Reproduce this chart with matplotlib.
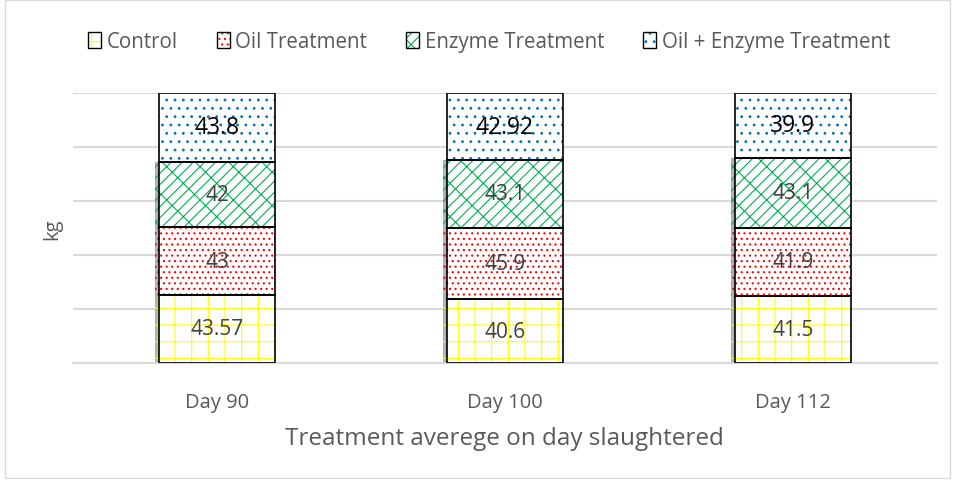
import numpy as np
import matplotlib.pyplot as plt
import matplotlib.patheffects as pe
from matplotlib.legend_handler import HandlerTuple

plt.rcParams['font.family'] = ['Open Sans', 'DejaVu Sans']
plt.rcParams['hatch.linewidth'] = 0.8

# data
days = ["Day 90", "Day 100", "Day 112"]
series = ["Control", "Oil Treatment", "Enzyme Treatment", "Oil + Enzyme Treatment"]
control = [43.57, 40.6, 41.5]
oil = [43, 45.9, 41.9]
enzyme = [42, 43.1, 43.1]
oil_enzyme = [43.8, 42.92, 39.9]

hatch_colors = ["#ffff00", "#ff0000", "#00b050", "#0070c0"]
hatches = ["+", "...", "x//", ".."]
label_colors = ["#404040", "#404040", "#404040", "#000000"]
label_sizes = [15, 15, 15, 16.5]

values = np.array([control, oil, enzyme, oil_enzyme])
shares = values / values.sum(axis=0)   # 100% stacked

fig = plt.figure(figsize=(9.55, 4.81), dpi=100)
ax = fig.add_axes([0.0764, 0.2432, 0.9046, 0.5614])
fig.patches.append(plt.Rectangle((0.005, 0.004), 0.99, 0.994, transform=fig.transFigure,
                                 fill=False, edgecolor="#d9d9d9", linewidth=1))

x = np.arange(len(days))
w = 0.403
bottom = np.zeros(len(days))
for i in range(len(series)):
    # hatch layer, then black outline
    bars = ax.bar(x, shares[i], w, bottom=bottom, color="white", edgecolor=hatch_colors[i],
                  hatch=hatches[i], linewidth=0, zorder=2)
    if i < 3:
        for b in bars:
            b.set_path_effects([pe.SimplePatchShadow(offset=(-3, 0), shadow_rgbFace="#7f7f7f",
                                                     alpha=0.6), pe.Normal()])
    ax.bar(x, shares[i], w, bottom=bottom, fill=False, edgecolor="black",
           linewidth=1.2, zorder=3)
    for j in range(len(days)):
        ax.text(x[j], bottom[j] + shares[i][j] / 2, f"{values[i][j]:g}", ha="center",
                va="center", fontsize=label_sizes[i], color=label_colors[i], zorder=4)
    bottom += shares[i]

ax.set_xlim(-0.5, 2.5)
ax.set_ylim(0, 1)
ax.set_yticks(np.arange(0, 1.01, 0.2))
ax.set_yticklabels([])
ax.yaxis.grid(True, color="#d9d9d9", linewidth=1.5, zorder=0)
ax.set_axisbelow(True)
ax.tick_params(length=0)
ax.set_xticks(x)
ax.set_xticklabels(days, fontsize=14.5, color="#595959")
ax.tick_params(axis="x", pad=21)
for s in ["top", "right", "left"]:
    ax.spines[s].set_visible(False)
ax.spines["bottom"].set_color("#d9d9d9")
ax.spines["bottom"].set_linewidth(1.5)

ax.set_ylabel("kg", fontsize=14.5, color="#595959", labelpad=4)
ax.set_xlabel("Treatment averege on day slaughtered", fontsize=17.5, color="#595959", labelpad=10)

handles = []
for i in range(len(series)):
    h1 = plt.Rectangle((0, 0), 1, 1, facecolor="white", edgecolor=hatch_colors[i],
                       hatch=hatches[i], linewidth=0)
    h2 = plt.Rectangle((0, 0), 1, 1, fill=False, edgecolor="black", linewidth=1)
    handles.append((h1, h2))
leg = fig.legend(handles, series, loc="center", bbox_to_anchor=(0.512, 0.911), ncol=4,
                 frameon=False, fontsize=14.8, handlelength=0.65, handleheight=0.85,
                 handletextpad=0.25, columnspacing=1.9,
                 handler_map={tuple: HandlerTuple(ndivide=1)})
for t in leg.get_texts():
    t.set_color("#595959")

fig.savefig("out.png", dpi=100)
